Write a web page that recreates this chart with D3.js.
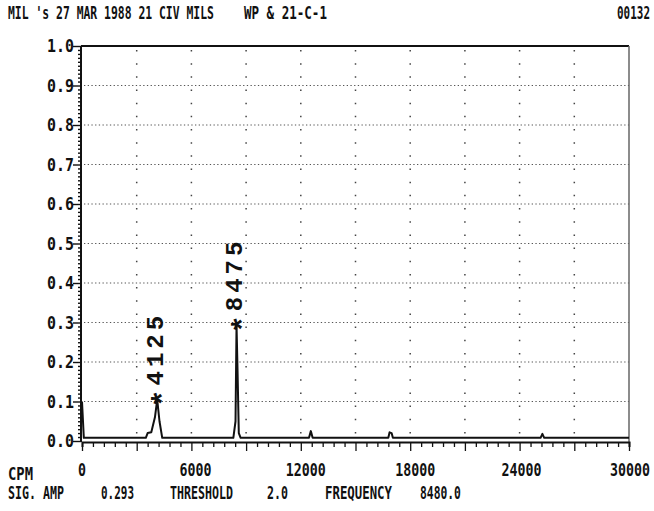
<!DOCTYPE html>
<html>
<head>
<meta charset="utf-8">
<script src="https://cdn.jsdelivr.net/npm/d3@7"></script>
<style>
  html, body { margin: 0; padding: 0; background: #fff; }
  svg { display: block; }
  text { font-family: "DejaVu Sans Mono", "Liberation Mono", monospace; fill: #111; }
</style>
</head>
<body>
<svg id="chart" width="654" height="511"></svg>
<script>
// ---- data ----
const freqCPM = [0, 100, 3500, 3600, 3800, 4000, 4125, 4250, 4400,
                 8300, 8420, 8475, 8530, 8600, 8700,
                 12450, 12550, 12650,
                 16800, 16870, 16980, 17050,
                 25150, 25250, 25350, 30000];
const amplitude = [0.10, 0.008, 0.008, 0.02, 0.022, 0.06, 0.105, 0.05, 0.008,
                   0.008, 0.05, 0.293, 0.18, 0.02, 0.008,
                   0.008, 0.025, 0.008,
                   0.008, 0.022, 0.02, 0.008,
                   0.008, 0.018, 0.008, 0.008];
const peakFreqs = [4125, 8475];
const peakAmps = [0.105, 0.293];
const peakLabels = ["*4125", "*8475"];
const xTicks = [0, 6000, 12000, 18000, 24000, 30000];
const xTickLabels = ["0", "6000", "12000", "18000", "24000", "30000"];
const yTicks = [0.0, 0.1, 0.2, 0.3, 0.4, 0.5, 0.6, 0.7, 0.8, 0.9, 1.0];
const yTickLabels = ["0.0", "0.1", "0.2", "0.3", "0.4", "0.5", "0.6", "0.7", "0.8", "0.9", "1.0"];
const headerLeft = "MIL 's 27 MAR 1988  21 CIV MILS";
const headerMid = "WP & 21-C-1";
const headerRight = "00132";
const xUnit = "CPM";
const footerItems = ["SIG. AMP", "0.293", "THRESHOLD", "2.0", "FREQUENCY", "8480.0"];

// ---- layout ----
const svg = d3.select("#chart");
const x = d3.scaleLinear().domain([0, 30000]).range([82, 629]);
const y = d3.scaleLinear().domain([0, 1]).range([441, 46]);

// condensed text: measure natural width, then scale horizontally to width w
function txt(g, px, py, s, w, anchor, size) {
  const t = g.append("text")
    .attr("font-size", size || 17)
    .attr("font-weight", "bold")
    .attr("text-anchor", "start")
    .text(s);
  const nat = t.node().getComputedTextLength();
  const sx = w / nat;
  let left = px;
  if (anchor === "middle") left = px - w / 2;
  if (anchor === "end") left = px - w;
  t.attr("transform", `translate(${left},${py}) scale(${sx},1)`);
  return t;
}

// header
txt(svg, 8, 19, headerLeft, 206);
txt(svg, 244, 19, headerMid, 83);
txt(svg, 650, 19, headerRight, 33, "end");

// grid
const grid = svg.append("g");
grid.selectAll("line.h").data(yTicks.filter(v => v > 0 && v < 1)).join("line")
  .attr("x1", x(0) + 2).attr("x2", x(30000))
  .attr("y1", d => y(d)).attr("y2", d => y(d))
  .attr("stroke", "#555").attr("stroke-width", 1.1)
  .attr("stroke-dasharray", "1.3 2.4");
const vGrid = d3.range(3000, 30000, 3000);
grid.selectAll("line.v").data(vGrid).join("line")
  .attr("x1", d => x(d)).attr("x2", d => x(d))
  .attr("y1", y(1) + 4).attr("y2", y(0))
  .attr("stroke", "#444").attr("stroke-width", 1.5)
  .attr("stroke-dasharray", "1.5 11.67");

// frame
svg.append("line").attr("x1", x(0) - 1).attr("x2", x(30000)).attr("y1", y(1)).attr("y2", y(1))
  .attr("stroke", "#111").attr("stroke-width", 2);
svg.append("line").attr("x1", x(30000)).attr("x2", x(30000)).attr("y1", y(1)).attr("y2", y(0) + 1)
  .attr("stroke", "#666").attr("stroke-width", 1.5);
svg.append("line").attr("x1", x(0) - 1).attr("x2", x(0) - 1).attr("y1", y(1)).attr("y2", y(0) + 1)
  .attr("stroke", "#111").attr("stroke-width", 2);

// x axis
const xAxis = d3.axisBottom(x)
  .tickValues(d3.range(0, 30001, 600))
  .tickSize(5).tickFormat("");
const gx = svg.append("g").attr("transform", `translate(0,${y(0) + 1})`).call(xAxis);
gx.select(".domain").attr("stroke", "#111").attr("stroke-width", 2);
gx.selectAll(".tick line").attr("stroke", "#111").attr("stroke-width", 1.3)
  .attr("y2", d => d % 3000 === 0 ? 9 : 5);

const xLabW = [8, 32, 40, 40, 40, 40];
const xLabDx = [0, 4, 5, 5, 2, 1];
xTicks.forEach((v, i) => {
  txt(svg, x(v) + xLabDx[i], 476, xTickLabels[i], xLabW[i], "middle");
});

// y axis
const yAxis = d3.axisLeft(y).tickValues(d3.range(0, 101).map(d => d / 100))
  .tickSize(3).tickFormat("");
const gy = svg.append("g").attr("transform", `translate(${x(0) - 1},0)`).call(yAxis);
gy.select(".domain").remove();
gy.selectAll(".tick line").attr("stroke", "#111").attr("stroke-width", 1.4)
  .attr("x2", (d, i) => i % 10 === 0 ? -8 : -3);
yTicks.forEach((v, i) => {
  txt(svg, 74, y(v) + 6, yTickLabels[i], 27, "end", 18);
});

// trace
const line = d3.line().x(d => x(d[0])).y(d => y(d[1]));
svg.append("path")
  .datum(freqCPM.map((f, i) => [f, amplitude[i]]))
  .attr("d", line)
  .attr("fill", "none").attr("stroke", "#111").attr("stroke-width", 2)
  .attr("stroke-linejoin", "round");

// peak labels
peakFreqs.forEach((f, i) => {
  const t = svg.append("text")
    .attr("transform", `translate(${x(f)},${y(peakAmps[i]) + 8}) rotate(-90)`)
    .attr("font-weight", "bold")
    .attr("font-size", 24)
    .attr("letter-spacing", 4)
    .style("font-family", "'Liberation Mono', 'Courier New', monospace");
  const s = peakLabels[i];
  t.append("tspan").attr("dy", 16).attr("font-size", 30).text(s[0]);
  t.append("tspan").attr("dy", -10.5).text(s.slice(1));
});

// footer
txt(svg, 8, 480, xUnit, 25);
const footX = [8, 101, 170, 267, 325, 420];
const footW = [56, 33, 63, 21, 67, 41];
footerItems.forEach((s, i) => txt(svg, footX[i], 499, s, footW[i]));
</script>
</body>
</html>
